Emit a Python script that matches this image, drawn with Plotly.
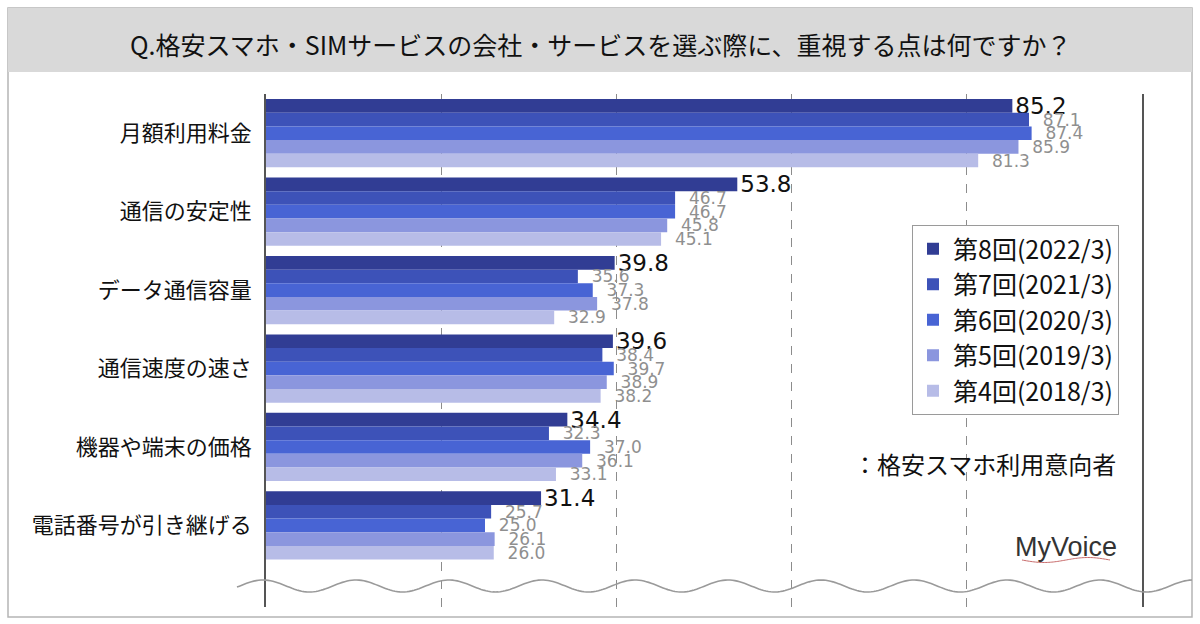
import numpy as np
import plotly.graph_objects as go

categories = ["月額利用料金", "通信の安定性", "データ通信容量", "通信速度の速さ", "機器や端末の価格", "電話番号が引き継げる"]
series_names = ["第8回(2022/3)", "第7回(2021/3)", "第6回(2020/3)", "第5回(2019/3)", "第4回(2018/3)"]
wave8 = [85.2, 53.8, 39.8, 39.6, 34.4, 31.4]
wave7 = [87.1, 46.7, 35.6, 38.4, 32.3, 25.7]
wave6 = [87.4, 46.7, 37.3, 39.7, 37.0, 25.0]
wave5 = [85.9, 45.8, 37.8, 38.9, 36.1, 26.1]
wave4 = [81.3, 45.1, 32.9, 38.2, 33.1, 26.0]
series_values = [wave8, wave7, wave6, wave5, wave4]
colors = ["#313d94", "#3d52b8", "#4864d4", "#8b96de", "#b7bce7"]

JP = "Noto Sans CJK JP, Noto Sans, sans-serif"
NUM = "DejaVu Sans, Verdana, sans-serif"

# pixel -> paper helpers (plot area 266..1142 x 94..607)
L, R, T, B = 266, 1142, 94, 607
def px(x):
    return (x - L) / (R - L)
def py(y):
    return (B - y) / (B - T)

fig = go.Figure()
ypos = list(range(len(categories)))
for i, (name, vals, col) in enumerate(zip(series_names, series_values, colors)):
    first = i == 0
    pad = "" if first else "\u00a0\u00a0"
    fig.add_trace(go.Bar(
        y=ypos, x=vals, name=name, orientation="h",
        marker=dict(color=col, line=dict(width=0)),
        text=[f"{pad}{v:.1f}" for v in vals],
        textposition="outside",
        textfont=dict(family=NUM, size=23 if first else 17,
                      color="#111111" if first else "#8f8f8f"),
        constraintext="none", cliponaxis=False,
        legendgroup=f"g{i}", hoverinfo="skip",
    ))

shapes = []
# outer frame
shapes.append(dict(type="rect", xref="paper", yref="paper",
                   x0=px(8), x1=px(1192), y0=py(617), y1=py(8),
                   line=dict(color="#b5b5b5", width=1.5), fillcolor="rgba(0,0,0,0)", layer="below"))
# title box
shapes.append(dict(type="rect", xref="paper", yref="paper",
                   x0=px(8), x1=px(1192), y0=py(72), y1=py(8),
                   line=dict(width=0), fillcolor="#d9d9d9", layer="below"))
# wave decoration
xs = np.linspace(237, 1192, 400)
ys = 586 - 6 * np.cos(2 * np.pi * (xs - 263) / 93)
path = "M " + " L ".join(f"{px(a):.5f},{py(b):.5f}" for a, b in zip(xs, ys))
shapes.append(dict(type="path", xref="paper", yref="paper", path=path,
                   line=dict(color="#9a9a9a", width=1.6), layer="above"))
# red swoosh under logo
sx = np.linspace(1022, 1110, 60)
sy = 560 + 2.5 * np.sin((sx - 1022) / 88 * 2 * np.pi)
spath = "M " + " L ".join(f"{px(a):.5f},{py(b):.5f}" for a, b in zip(sx, sy))
shapes.append(dict(type="path", xref="paper", yref="paper", path=spath,
                   line=dict(color="#c86a6a", width=1), layer="above"))

annotations = [
    dict(text="Q.格安スマホ・SIMサービスの会社・サービスを選ぶ際に、重視する点は何ですか？",
         xref="paper", yref="paper", x=px(601), y=py(44), xanchor="center", yanchor="middle",
         showarrow=False, font=dict(family=JP, size=25, color="#111111")),
    dict(text="：格安スマホ利用意向者", xref="paper", yref="paper", x=px(851), y=py(463),
         xanchor="left", yanchor="middle", showarrow=False,
         font=dict(family=JP, size=24, color="#111111")),
    dict(text="MyVoice", xref="paper", yref="paper", x=px(1066), y=py(547),
         xanchor="center", yanchor="middle", showarrow=False,
         font=dict(family="Liberation Sans Narrow, Liberation Sans, sans-serif", size=27, color="#333333")),
]

fig.update_layout(
    width=1200, height=624,
    margin=dict(l=L, r=1200 - R, t=T, b=624 - B, pad=0),
    paper_bgcolor="white", plot_bgcolor="white",
    barmode="group", bargap=0.13, bargroupgap=0,
    showlegend=True,
    legend=dict(x=px(912), y=py(225), xanchor="left", yanchor="top",
                bordercolor="#9a9a9a", borderwidth=1, bgcolor="white",
                font=dict(family=JP, size=25, color="#111111"),
                tracegroupgap=10, traceorder="normal", itemclick=False),
    xaxis=dict(range=[0, 100], tickvals=[20, 40, 60, 80], showticklabels=False,
               showgrid=True, gridcolor="#8c8c8c", griddash="dash", gridwidth=1,
               zeroline=False, showline=False, ticks=""),
    yaxis=dict(range=[6.04, -0.5], tickvals=ypos, ticktext=categories,
               showgrid=False, zeroline=False, showline=True, mirror=True,
               linecolor="#555555", linewidth=1.5, ticks="",
               ticklabelstandoff=8,
               tickfont=dict(family=JP, size=22, color="#111111")),
    shapes=shapes, annotations=annotations,
)

fig.write_html("out.html")
